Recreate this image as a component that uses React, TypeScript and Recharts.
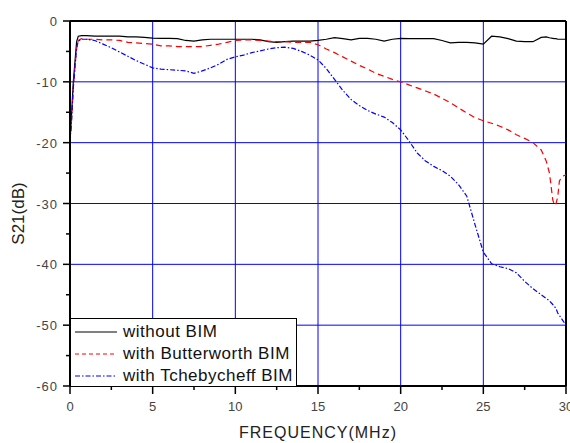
import React from 'react';
import { LineChart, Line, XAxis, YAxis, ReferenceLine, Legend } from 'recharts';

const freq = [0, 0.1, 0.2, 0.3, 0.4, 0.5, 0.7, 1, 1.5, 2, 2.5, 3, 3.5, 4, 4.5, 5, 5.5, 6, 6.5, 7, 7.5, 8, 8.5, 9, 9.5, 10, 10.5, 11, 11.5, 12, 12.5, 13, 13.5, 14, 14.5, 15, 15.5, 16, 16.5, 17, 17.5, 18, 18.5, 19, 19.5, 20, 20.5, 21, 21.5, 22, 22.5, 23, 23.5, 24, 24.5, 25, 25.5, 26, 26.5, 27, 27.5, 28, 28.5, 28.8, 29, 29.2, 29.3, 29.4, 29.5, 29.6, 29.8, 30];

const withoutBIM = [-19.8, -15, -10, -6.7, -3.4, -2.5, -2.4, -2.4, -2.5, -2.5, -2.5, -2.5, -2.6, -2.6, -2.7, -2.8, -2.85, -2.85, -2.9, -3.2, -3.3, -3.1, -3.0, -3.0, -3.0, -3.0, -3.0, -3.0, -3.1, -3.4, -3.5, -3.4, -3.3, -3.3, -3.3, -3.2, -3.0, -2.75, -2.9, -3.1, -2.85, -2.85, -3.0, -3.3, -3.0, -2.85, -2.9, -2.9, -2.9, -2.9, -3.2, -3.6, -3.5, -3.5, -3.6, -3.8, -2.5, -2.6, -2.9, -3.3, -3.4, -3.4, -2.7, -2.6, -2.75, -2.85, -2.9, -2.9, -3.0, -3.0, -3.0, -3.0];

const butterworth = [-19.8, -16, -11, -7.5, -4.5, -3.2, -2.9, -3.0, -3.0, -3.1, -3.1, -3.2, -3.5, -3.6, -3.7, -3.8, -4.1, -4.1, -4.2, -4.2, -4.2, -4.2, -4.0, -3.8, -3.5, -3.2, -3.1, -3.1, -3.2, -3.3, -3.4, -3.4, -3.5, -3.5, -3.5, -3.9, -4.6, -5.2, -5.9, -6.6, -7.3, -7.9, -8.6, -9.1, -9.6, -10.0, -10.5, -11.0, -11.5, -12.0, -12.7, -13.4, -14.3, -15.1, -15.9, -16.4, -16.8, -17.3, -17.9, -18.7, -19.3, -20.0, -21.2, -23.0, -25.0, -29.4, -30.3, -30.0, -28.9, -26.3, -25.5, -25.3];

const tchebycheff = [-19.8, -16, -11, -7.5, -4.5, -3.3, -3.0, -3.0, -3.2, -3.8, -4.4, -5.1, -5.8, -6.5, -7.1, -7.7, -7.9, -8.0, -8.1, -8.2, -8.6, -8.2, -7.7, -7.1, -6.3, -5.9, -5.6, -5.2, -4.9, -4.6, -4.4, -4.3, -4.5, -5.0, -5.6, -6.4, -7.8, -9.6, -11.4, -12.9, -13.9, -14.7, -15.3, -15.8, -16.7, -17.9, -19.7, -21.7, -23.0, -23.9, -24.6, -25.5, -26.9, -28.8, -33.5, -38.0, -39.9, -40.4, -40.7, -41.4, -42.8, -44.0, -45.0, -45.6, -46.0, -46.6, -46.9, -47.3, -48.0, -48.4, -49.2, -50.0];

const xTicks = [0, 2.5, 5, 7.5, 10, 12.5, 15, 17.5, 20, 22.5, 25, 27.5, 30];
const yTicks = [-60, -55, -50, -45, -40, -35, -30, -25, -20, -15, -10, -5, 0];
const xGrid = [5, 10, 15, 20, 25];
const yGrid = [-10, -20, -30, -40, -50];

const seriesNames = ['without BIM', 'with Butterworth BIM', 'with Tchebycheff BIM'];

const data = freq.map((f, i) => ({
  f,
  a: withoutBIM[i],
  b: butterworth[i],
  c: tchebycheff[i],
}));

const FONT = '"Liberation Sans", Arial, sans-serif';

const XTick = (props: any) => {
  const { x, y, payload } = props;
  const v = payload.value;
  const major = v % 5 === 0;
  return (
    <g>
      <line x1={x} x2={x} y1={y} y2={y + (major ? 8 : 4)} stroke="#000" strokeWidth={1.5} />
      {major && (
        <text x={x} y={y + 25} textAnchor="middle" fontSize={13} fontFamily={FONT} fill="#444">
          {v}
        </text>
      )}
    </g>
  );
};

const YTick = (props: any) => {
  const { x, y, payload } = props;
  const v = payload.value;
  const major = v % 10 === 0;
  return (
    <g>
      <line x1={x - (major ? 7 : 4)} x2={x} y1={y} y2={y} stroke="#000" strokeWidth={1.5} />
      {major && (
        <text x={x - 12} y={y + 5} textAnchor="end" fontSize={13} fontFamily={FONT} fill="#444" letterSpacing={1}>
          {v}
        </text>
      )}
    </g>
  );
};

const legendStyles = [
  { color: '#000', dash: undefined as string | undefined },
  { color: '#ff0000', dash: '4 3' },
  { color: '#0000ff', dash: '5 2 1.5 2' },
];

const LegendBox = () => (
  <div
    style={{
      width: 227,
      height: 69,
      boxSizing: 'border-box',
      border: '1px solid #000',
      background: '#fff',
      paddingTop: 2,
      fontFamily: FONT,
    }}
  >
    {seriesNames.map((n, i) => (
      <div key={n} style={{ display: 'flex', alignItems: 'center', height: 22 }}>
        <svg width={44} height={10} style={{ marginLeft: 4 }}>
          <line
            x1={0}
            x2={42}
            y1={5}
            y2={5}
            stroke={legendStyles[i].color}
            strokeWidth={1}
            strokeDasharray={legendStyles[i].dash}
          />
        </svg>
        <span style={{ fontSize: 17, color: '#111', marginLeft: 4, letterSpacing: 0.5, whiteSpace: 'nowrap' }}>{n}</span>
      </div>
    ))}
  </div>
);

export default function App() {
  return (
    <div style={{ position: 'absolute', left: 0, top: 0, background: '#fff' }}>
      <LineChart width={570} height={443} data={data} margin={{ top: 21, right: 4, bottom: 0, left: 0 }}>
        {xGrid.map((g) => (
          <ReferenceLine key={'x' + g} x={g} stroke="#0000ff" strokeWidth={1} />
        ))}
        {yGrid.map((g) => (
          <ReferenceLine key={'y' + g} y={g} stroke="#0000ff" strokeWidth={1} />
        ))}
        <ReferenceLine y={0} stroke="#000" strokeWidth={2} />
        <ReferenceLine x={30} stroke="#000" strokeWidth={2} />
        <XAxis
          dataKey="f"
          type="number"
          domain={[0, 30]}
          ticks={xTicks}
          interval={0}
          tickLine={false}
          tickSize={0}
          tickMargin={0}
          tick={<XTick />}
          axisLine={{ stroke: '#000', strokeWidth: 2 }}
          height={57}
          label={{
            content: (p: any) => {
              const vb = p.viewBox;
              return (
                <text
                  x={vb.x + vb.width / 2}
                  y={vb.y + vb.height - 5}
                  textAnchor="middle"
                  fontSize={16}
                  fontFamily={FONT}
                  fill="#222"
                  letterSpacing={1}
                >
                  FREQUENCY(MHz)
                </text>
              );
            },
          }}
        />
        <YAxis
          type="number"
          domain={[-60, 0]}
          ticks={yTicks}
          interval={0}
          tickLine={false}
          tickSize={0}
          tickMargin={0}
          tick={<YTick />}
          axisLine={{ stroke: '#000', strokeWidth: 2 }}
          width={70}
          label={{
            content: (p: any) => {
              const vb = p.viewBox;
              const cx = vb.x + 24;
              const cy = vb.y + vb.height / 2 + 10;
              return (
                <text
                  x={cx}
                  y={cy}
                  transform={`rotate(-90 ${cx} ${cy})`}
                  textAnchor="middle"
                  fontSize={17}
                  fontFamily={FONT}
                  fill="#222"
                >
                  S21(dB)
                </text>
              );
            },
          }}
        />
        <Legend
          layout="vertical"
          align="center"
          verticalAlign="middle"
          content={() => <LegendBox />}
          wrapperStyle={{ left: 70, top: 318, width: 227, height: 69 }}
        />
        <Line dataKey="a" name={seriesNames[0]} stroke="#000" strokeWidth={1.2} dot={false} isAnimationActive={false} />
        <Line dataKey="b" name={seriesNames[1]} stroke="#ff0000" strokeWidth={1.2} strokeDasharray="6 4" dot={false} isAnimationActive={false} />
        <Line dataKey="c" name={seriesNames[2]} stroke="#0000ff" strokeWidth={1.2} strokeDasharray="5 2 1.5 2" dot={false} isAnimationActive={false} />
      </LineChart>
    </div>
  );
}
